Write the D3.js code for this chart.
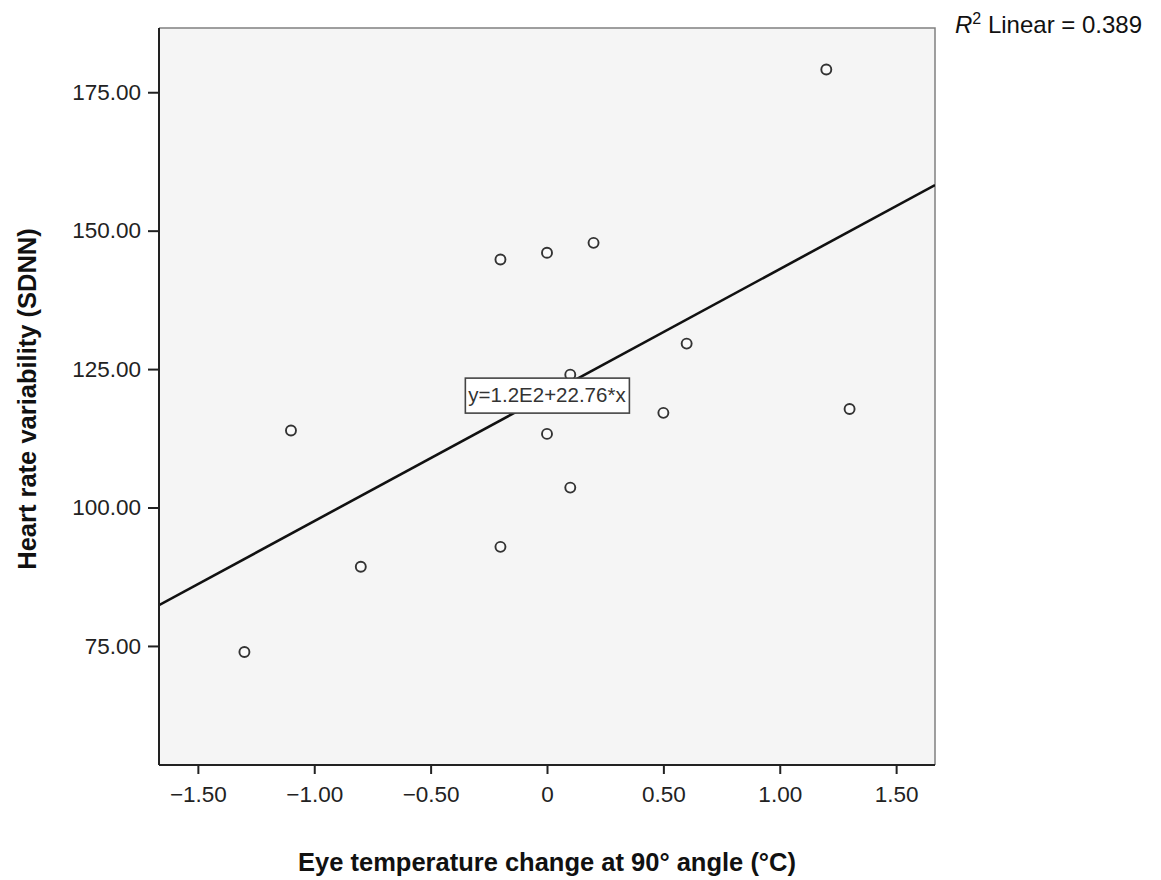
<!DOCTYPE html>
<html><head><meta charset="utf-8">
<script src="https://cdn.jsdelivr.net/npm/d3@7"></script>
<style>body{margin:0;background:#fff;} text{font-family:"Liberation Sans",Arial,sans-serif;}</style>
</head><body>
<svg id="chart" width="1161" height="880"></svg>
<script>
const xValues = [-1.3, -1.1, -0.8, -0.2, -0.2, 0.0, 0.0, 0.1, 0.1, 0.2, 0.5, 0.6, 1.2, 1.3];
const yValues = [73.9, 113.9, 89.3, 92.9, 144.8, 146.0, 113.3, 124.0, 103.6, 147.8, 117.1, 129.6, 179.1, 117.8];
const xTicks = [-1.5, -1.0, -0.5, 0, 0.5, 1.0, 1.5];
const xTickLabels = ["\u22121.50", "\u22121.00", "\u22120.50", "0", "0.50", "1.00", "1.50"];
const yTicks = [75, 100, 125, 150, 175];
const yTickLabels = ["75.00", "100.00", "125.00", "150.00", "175.00"];
const fitParams = [120.3, 22.76]; // intercept, slope
const fitLabel = "y=1.2E2+22.76*x";
const r2Label = "0.389";
const xTitle = "Eye temperature change at 90\u00b0 angle (\u00b0C)";
const yTitle = "Heart rate variability (SDNN)";

const svg = d3.select("#chart");
const L = 159, R = 935, T = 28, B = 765;
const x = d3.scaleLinear().domain([-1.667, 1.667]).range([L, R]);
const y = d3.scaleLinear().domain([53.5, 186.6]).range([B, T]);

svg.append("rect").attr("x", L).attr("y", T).attr("width", R - L).attr("height", B - T).attr("fill", "#f5f5f5");
svg.append("path").attr("d", `M${L},${T}H${R}V${B}`).attr("fill", "none").attr("stroke", "#808080").attr("stroke-width", 1.5);

svg.append("clipPath").attr("id", "clip").append("rect").attr("x", L).attr("y", T).attr("width", R - L).attr("height", B - T);

// fit line
const xd = x.domain();
svg.append("line").attr("clip-path", "url(#clip)")
  .attr("x1", x(xd[0])).attr("y1", y(fitParams[0] + fitParams[1] * xd[0]))
  .attr("x2", x(xd[1])).attr("y2", y(fitParams[0] + fitParams[1] * xd[1]))
  .attr("stroke", "#111").attr("stroke-width", 2.6);

// points
svg.append("g").selectAll("circle").data(xValues.map((v, i) => [v, yValues[i]])).join("circle")
  .attr("cx", d => x(d[0])).attr("cy", d => y(d[1])).attr("r", 5)
  .attr("fill", "#fafafa").attr("stroke", "#333").attr("stroke-width", 1.9);

// fit label box
const lx = x(0), ly = y(fitParams[0] + fitParams[1] * 0);
const lg = svg.append("g");
const lt = lg.append("text").attr("x", lx).attr("y", ly + 7).attr("text-anchor", "middle")
  .attr("font-size", 20.5).attr("fill", "#333").text(fitLabel);
const bb = lt.node().getBBox();
lg.insert("rect", "text").attr("x", bb.x - 3).attr("y", ly - 17).attr("width", bb.width + 6).attr("height", 35)
  .attr("fill", "#fff").attr("stroke", "#444").attr("stroke-width", 1.6);

// axes
const xAxis = d3.axisBottom(x).tickValues(xTicks).tickFormat((d, i) => xTickLabels[i]).tickSize(9);
const gx = svg.append("g").attr("transform", `translate(0,${B})`).call(xAxis);
gx.select(".domain").attr("d", `M${L},0H${R}`).attr("stroke", "#222").attr("stroke-width", 2);
gx.selectAll(".tick line").attr("stroke", "#222").attr("stroke-width", 2);
gx.selectAll(".tick text").attr("font-size", 22.5).attr("font-family", "Liberation Sans, Arial, sans-serif")
  .attr("fill", "#222").attr("y", 37).attr("dy", 0);

const yAxis = d3.axisLeft(y).tickValues(yTicks).tickFormat((d, i) => yTickLabels[i]).tickSize(11).tickPadding(7);
const gy = svg.append("g").attr("transform", `translate(${L},0)`).call(yAxis);
gy.select(".domain").attr("d", `M0,${T}V${B}`).attr("stroke", "#222").attr("stroke-width", 2);
gy.selectAll(".tick line").attr("stroke", "#222").attr("stroke-width", 2);
gy.selectAll(".tick text").attr("font-size", 22.5).attr("font-family", "Liberation Sans, Arial, sans-serif").attr("fill", "#222");

// titles
svg.append("text").attr("x", 547).attr("y", 871).attr("text-anchor", "middle")
  .attr("font-size", 25.5).attr("font-weight", "bold").attr("fill", "#111").text(xTitle);
svg.append("text").attr("transform", "translate(36,399) rotate(-90)").attr("text-anchor", "middle")
  .attr("font-size", 25.5).attr("font-weight", "bold").attr("fill", "#111").text(yTitle);

// R2 label
const r2 = svg.append("text").attr("x", 955).attr("y", 33).attr("font-size", 24).attr("fill", "#111");
r2.append("tspan").attr("font-style", "italic").text("R");
r2.append("tspan").attr("dy", -9).attr("font-size", 16).text("2");
r2.append("tspan").attr("dy", 9).text(" Linear = " + r2Label);
</script>
</body></html>
